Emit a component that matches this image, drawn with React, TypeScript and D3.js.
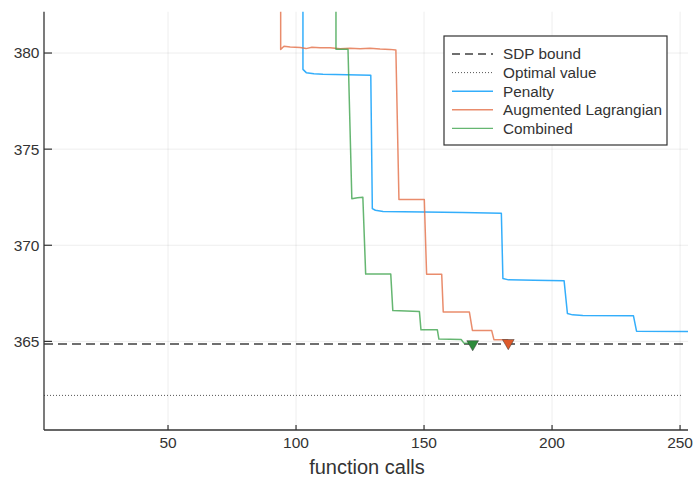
import React from "react";
import * as d3 from "d3";

const W = 694;
const H = 479;

const xDomain = [1.56, 253.1];
const yDomain = [360.39, 382.15];

const sdpBound = 364.86;
const optimalValue = 362.19;
const optimalX = [1.56, 251];

const penaltyX = [102.7, 102.7, 104, 107, 110.5, 120, 129.2, 129.8, 131, 134, 150, 165, 180.2, 180.8, 183, 193, 204.7, 206, 208, 212, 231.8, 233, 253.1];
const penaltyY = [383, 379.15, 378.98, 378.92, 378.89, 378.87, 378.85, 371.91, 371.82, 371.76, 371.73, 371.7, 371.67, 368.27, 368.2, 368.18, 368.16, 366.45, 366.38, 366.34, 366.33, 365.53, 365.52];

const augX = [94.0, 94.0, 95.3, 97.7, 101.6, 103.9, 106.2, 109.4, 113.3, 117.2, 121.1, 125, 128.9, 132.8, 136.7, 139.0, 140.2, 150.1, 151.0, 156.9, 157.5, 167.7, 168.9, 176.4, 177.3, 182.9];
const augY = [383, 380.19, 380.35, 380.31, 380.29, 380.23, 380.3, 380.28, 380.27, 380.22, 380.25, 380.22, 380.25, 380.21, 380.19, 380.16, 372.38, 372.38, 368.49, 368.49, 366.53, 366.53, 365.57, 365.57, 365.09, 365.09];

const combX = [115.6, 115.6, 120.3, 121.8, 124, 126.1, 127.2, 137.0, 137.8, 148.2, 148.8, 155.2, 155.8, 164.5, 165.5, 169];
const combY = [383, 380.2, 380.2, 372.42, 372.47, 372.5, 368.5, 368.5, 366.6, 366.55, 365.6, 365.6, 365.12, 365.1, 364.92, 364.88];

const markerX = [169, 182.9];
const markerY = [364.86, 364.92];

const legendLabels = ["SDP bound", "Optimal value", "Penalty", "Augmented Lagrangian", "Combined"];

const C_BLUE = "#009AFA";
const C_ORANGE = "#E36F47";
const C_GREEN = "#3EA44E";

export default function App() {
  const left = 44, right = 688, top = 11.7, bottom = 430;
  const x = d3.scaleLinear().domain(xDomain).range([left, right]);
  const y = d3.scaleLinear().domain(yDomain).range([bottom, top]);
  const xTicks = x.ticks(5);
  const yTicks = y.ticks(5);
  const line = d3.line<[number, number]>().x((d) => x(d[0])).y((d) => y(d[1]));
  const pts = (xs: number[], ys: number[]) => xs.map((v, i) => [v, ys[i]] as [number, number]);
  const font = "'Liberation Sans', Arial, Helvetica, sans-serif";
  const tri = d3.symbol().type(d3.symbolTriangle).size(60)();

  const series = [
    { xs: penaltyX, ys: penaltyY, c: C_BLUE },
    { xs: augX, ys: augY, c: C_ORANGE },
    { xs: combX, ys: combY, c: C_GREEN },
  ];
  const markerFill = ["#2E8B3C", "#DD5A2B"];

  const lgX = 444, lgY = 36, lgW = 223, lgH = 109;
  const rowY = (i: number) => 54 + i * 18.6;
  const legendStyles = [
    { c: "#404040", dash: "8 5", w: 1.5 },
    { c: "#555", dash: "1 2", w: 1 },
    { c: C_BLUE, dash: "", w: 1.4 },
    { c: C_ORANGE, dash: "", w: 1.4 },
    { c: C_GREEN, dash: "", w: 1.4 },
  ];

  return (
    <div style={{ position: "absolute", left: 0, top: 0 }}>
      <svg width={W} height={H} style={{ display: "block", background: "#fff" }} fontFamily={font}>
        <defs>
          <clipPath id="plotclip">
            <rect x={left} y={top} width={right - left} height={bottom - top} />
          </clipPath>
        </defs>
        {xTicks.map((t) => (
          <line key={"gx" + t} x1={x(t)} x2={x(t)} y1={top} y2={bottom} stroke="#000" strokeOpacity={0.07} strokeWidth={1} />
        ))}
        {yTicks.map((t) => (
          <line key={"gy" + t} x1={left} x2={right} y1={y(t)} y2={y(t)} stroke="#000" strokeOpacity={0.07} strokeWidth={1} />
        ))}
        <g clipPath="url(#plotclip)">
          <line x1={left} x2={right} y1={y(sdpBound)} y2={y(sdpBound)} stroke="#404040" strokeWidth={1.5} strokeDasharray="9 5" />
          <line x1={x(optimalX[0])} x2={x(optimalX[1])} y1={y(optimalValue)} y2={y(optimalValue)} stroke="#555" strokeWidth={1} strokeDasharray="1 2" />
          {series.map((s, i) => (
            <path key={i} d={line(pts(s.xs, s.ys)) || ""} fill="none" stroke={s.c} strokeOpacity={0.8} strokeWidth={1.5} strokeLinejoin="round" />
          ))}
          {markerX.map((mx, i) => (
            <path key={"m" + i} d={tri || ""} transform={`translate(${x(mx)},${y(markerY[i])}) rotate(180)`} fill={markerFill[i]} stroke="#333" strokeOpacity={0.6} strokeWidth={0.8} />
          ))}
        </g>
        <line x1={left} x2={left} y1={top} y2={bottom} stroke="#333" strokeWidth={1.3} />
        <line x1={left} x2={right} y1={bottom} y2={bottom} stroke="#333" strokeWidth={1.3} />
        {yTicks.map((t) => (
          <g key={"ty" + t}>
            <line x1={left} x2={left + 8} y1={y(t)} y2={y(t)} stroke="#333" strokeWidth={1.2} />
            <text x={left - 4.5} y={y(t)} dy="0.35em" textAnchor="end" fontSize={15.5} fill="#333">{t}</text>
          </g>
        ))}
        {xTicks.map((t) => (
          <g key={"tx" + t}>
            <line x1={x(t)} x2={x(t)} y1={bottom} y2={bottom - 5} stroke="#333" strokeWidth={1.2} />
            <text x={x(t)} y={448} textAnchor="middle" fontSize={15.5} fill="#333">{t}</text>
          </g>
        ))}
        <text x={367} y={474} textAnchor="middle" fontSize={20} fill="#333">function calls</text>
        <rect x={lgX} y={lgY} width={lgW} height={lgH} fill="#fff" stroke="#333" strokeWidth={1.2} />
        {legendLabels.map((lab, i) => (
          <g key={"lg" + i}>
            <line x1={452} x2={493} y1={rowY(i)} y2={rowY(i)} stroke={legendStyles[i].c} strokeOpacity={i >= 2 ? 0.8 : 1} strokeWidth={legendStyles[i].w} strokeDasharray={legendStyles[i].dash} />
            <text x={503} y={rowY(i)} dy="0.35em" fontSize={15.3} fill="#333">{lab}</text>
          </g>
        ))}
      </svg>
    </div>
  );
}
